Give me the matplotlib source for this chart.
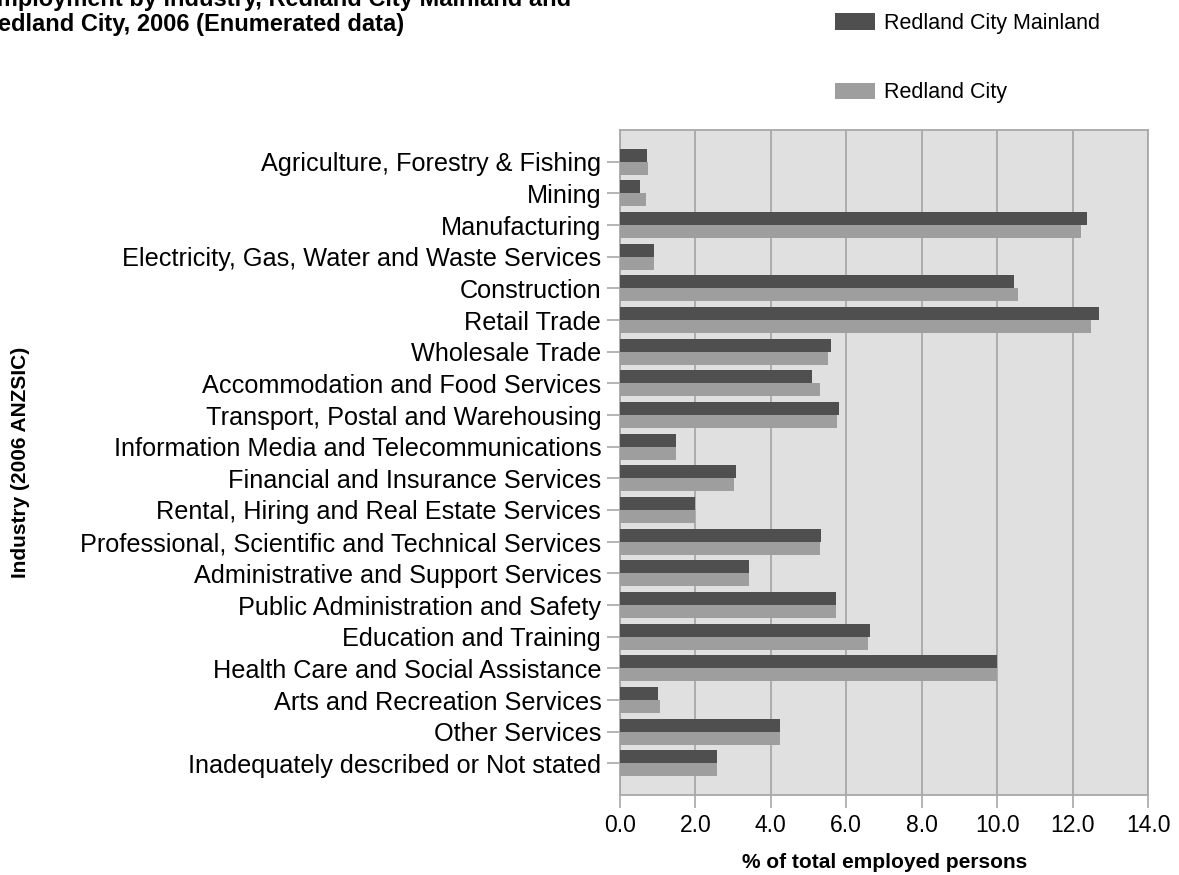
import numpy as np
import matplotlib
matplotlib.use('Agg')
import matplotlib.pyplot as plt

plt.rcParams['font.family'] = ['Liberation Sans', 'DejaVu Sans']

industries = [
    'Agriculture, Forestry & Fishing',
    'Mining',
    'Manufacturing',
    'Electricity, Gas, Water and Waste Services',
    'Construction',
    'Retail Trade',
    'Wholesale Trade',
    'Accommodation and Food Services',
    'Transport, Postal and Warehousing',
    'Information Media and Telecommunications',
    'Financial and Insurance Services',
    'Rental, Hiring and Real Estate Services',
    'Professional, Scientific and Technical Services',
    'Administrative and Support Services',
    'Public Administration and Safety',
    'Education and Training',
    'Health Care and Social Assistance',
    'Arts and Recreation Services',
    'Other Services',
    'Inadequately described or Not stated',
]
mainland = [0.71, 0.52, 12.39, 0.90, 10.46, 12.69, 5.60, 5.09, 5.80, 1.49,
            3.07, 2.00, 5.34, 3.41, 5.73, 6.62, 10.00, 1.02, 4.23, 2.56]
redland = [0.75, 0.68, 12.22, 0.90, 10.54, 12.49, 5.52, 5.30, 5.75, 1.49,
           3.02, 2.00, 5.31, 3.41, 5.73, 6.58, 10.00, 1.05, 4.23, 2.56]
xticks = [0, 2, 4, 6, 8, 10, 12, 14]

DARK = '#4f4f4f'
LIGHT = '#9e9e9e'
GRID = '#a8a8a8'

W, H = 1179, 875
fig = plt.figure(figsize=(W / 100, H / 100), dpi=100)
ax = fig.add_axes([620 / W, 1 - 795 / H, (1148 - 620) / W, (795 - 130) / H])
ax.set_facecolor('#e0e0e0')

y = np.arange(len(industries))
bh = 0.41
b1 = ax.barh(y - bh / 2, mainland, height=bh, color=DARK, label='Redland City Mainland', zorder=3)
b2 = ax.barh(y + bh / 2, redland, height=bh, color=LIGHT, label='Redland City', zorder=3)

ax.set_ylim(len(industries), -1)
ax.set_xlim(0, 14)
ax.set_yticks(y)
ax.set_yticklabels(industries, fontsize=18.2)
ax.set_xticks(xticks)
ax.set_xticklabels([f'{v:.1f}' for v in xticks], fontsize=16.5)
ax.xaxis.grid(True, color=GRID, lw=1.3, zorder=1)
ax.set_axisbelow(True)
ax.tick_params(axis='both', length=9.5, width=1.2, color=GRID, pad=4)
for s in ax.spines.values():
    s.set_color(GRID)
    s.set_linewidth(1.3)

fig.text(885 / W, 1 - 862 / H, '% of total employed persons', ha='center', va='center',
         fontsize=15, fontweight='bold')
fig.text(21 / W, 1 - 462 / H, 'Industry (2006 ANZSIC)', ha='center', va='center',
         rotation=90, fontsize=15, fontweight='bold')
fig.text(-19 / W, 1 - 36 / H, 'Employment by industry, Redland City Mainland and\nRedland City, 2006 (Enumerated data)',
         ha='left', va='bottom', fontsize=17, fontweight='bold', linespacing=1.12)

fig.legend(handles=[b1, b2], loc='upper left', bbox_to_anchor=(835 / W, 1 - 13 / H),
           frameon=False, fontsize=15.5, handlelength=1.86, handleheight=0.8,
           handletextpad=0.42, labelspacing=2.25, borderpad=0, borderaxespad=0)

fig.savefig('out.png', dpi=100)
